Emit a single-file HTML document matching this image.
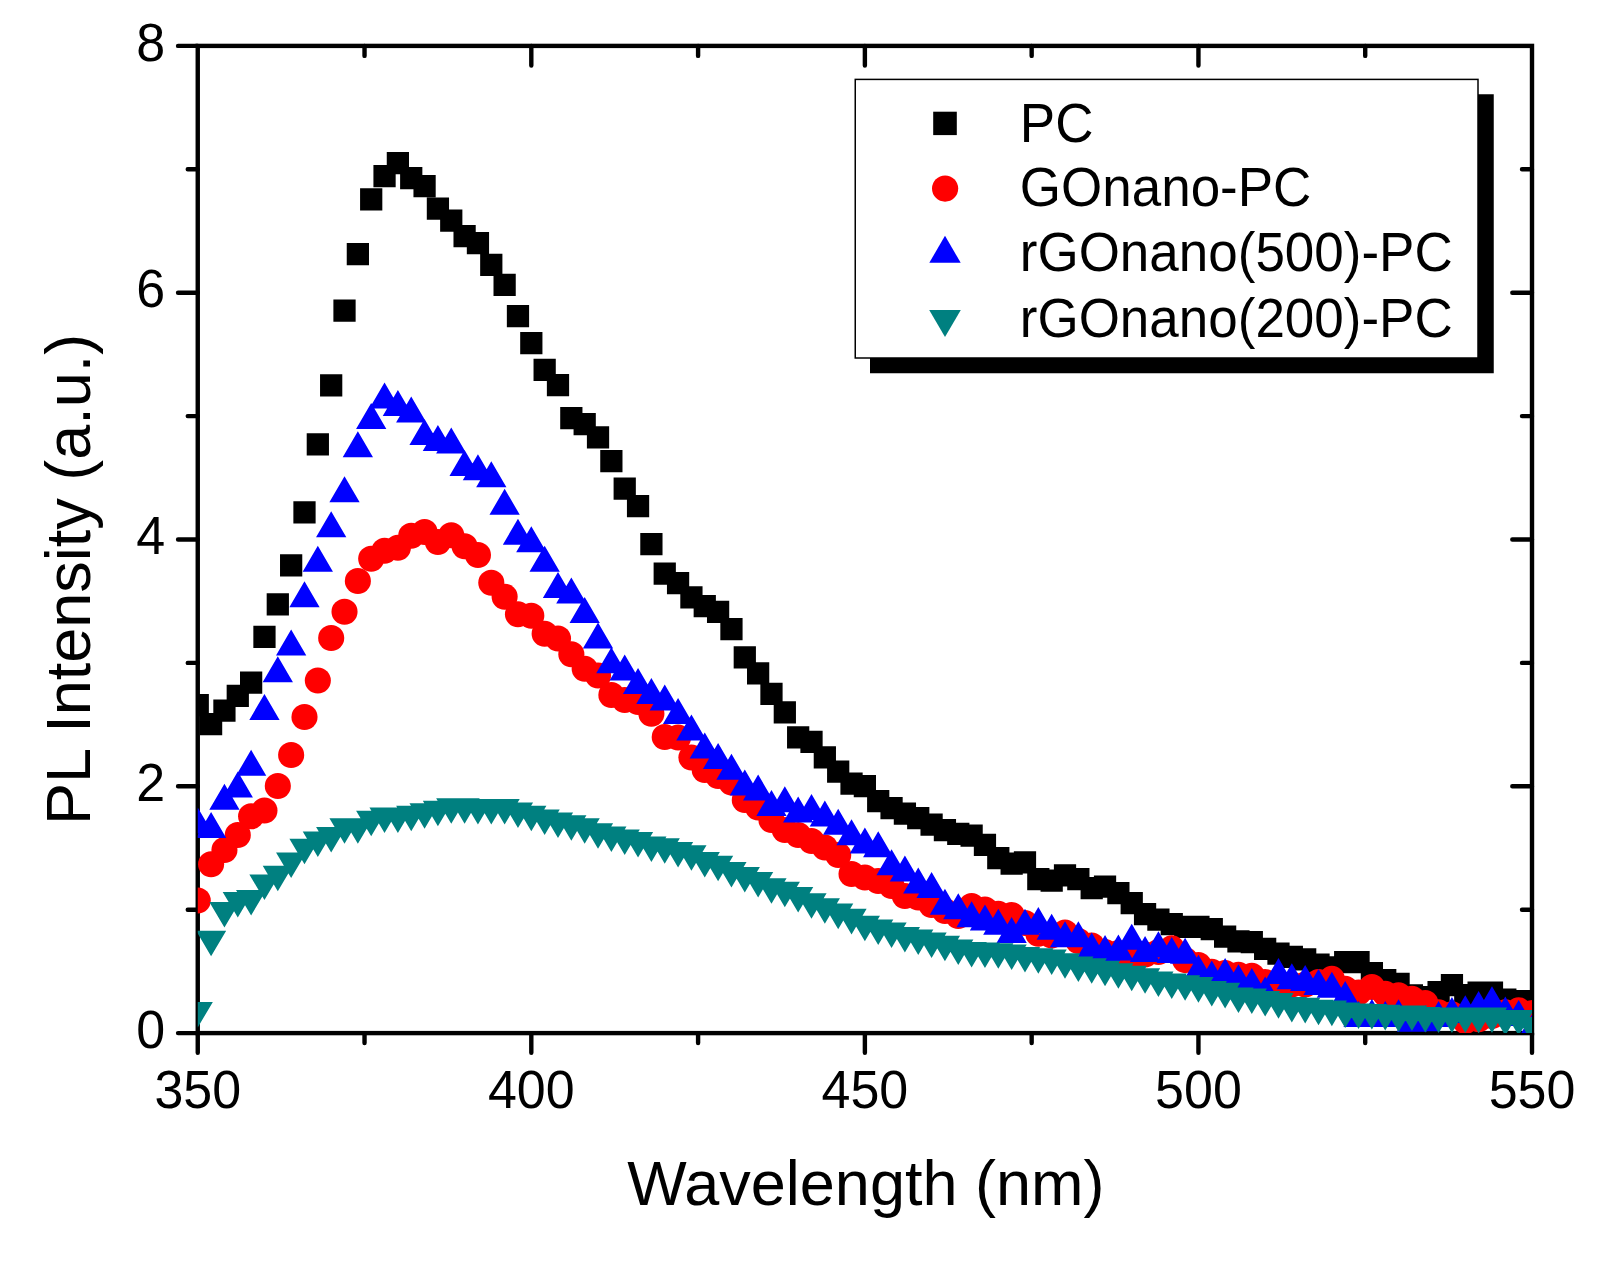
<!DOCTYPE html>
<html><head><meta charset="utf-8"><title>PL Intensity</title>
<style>
html,body{margin:0;padding:0;background:#fff;}
body{width:1616px;height:1268px;overflow:hidden;}
svg{display:block;}
text{font-family:"Liberation Sans",Arial,Helvetica,sans-serif;fill:#000;}
.tick{font-size:52px;}
.ttl{font-size:63px;}
.leg{font-size:53px;}
.ax{stroke:#000;stroke-width:4.4;stroke-linecap:round;fill:none;}
</style></head><body>
<svg width="1616" height="1268" viewBox="0 0 1616 1268">
<rect width="1616" height="1268" fill="#fff"/>
<defs><clipPath id="pc"><rect x="197.75" y="45.9" width="1334.25" height="987.2"/></clipPath></defs>

<rect class="ax" style="stroke-linecap:butt;stroke-linejoin:miter" x="197.75" y="45.9" width="1334.25" height="987.2"/>
<path class="ax" d="M197.75 1033.1v19.7M364.53 1033.1v10M364.53 45.9v10M531.31 1033.1v19.7M531.31 45.9v19.7M698.09 1033.1v10M698.09 45.9v10M864.88 1033.1v19.7M864.88 45.9v19.7M1031.66 1033.1v10M1031.66 45.9v10M1198.44 1033.1v19.7M1198.44 45.9v19.7M1365.22 1033.1v10M1365.22 45.9v10M1532 1033.1v19.7M197.75 1033.1h-19.7M197.75 909.7h-10M1532 909.7h-10M197.75 786.3h-19.7M1532 786.3h-19.7M197.75 662.9h-10M1532 662.9h-10M197.75 539.5h-19.7M1532 539.5h-19.7M197.75 416.1h-10M1532 416.1h-10M197.75 292.7h-19.7M1532 292.7h-19.7M197.75 169.3h-10M1532 169.3h-10M197.75 45.9h-19.7"/>
<text class="tick" transform="translate(197.75 1108) scale(1 1.045)" text-anchor="middle">350</text>
<text class="tick" transform="translate(531.31 1108) scale(1 1.045)" text-anchor="middle">400</text>
<text class="tick" transform="translate(864.88 1108) scale(1 1.045)" text-anchor="middle">450</text>
<text class="tick" transform="translate(1198.44 1108) scale(1 1.045)" text-anchor="middle">500</text>
<text class="tick" transform="translate(1532 1108) scale(1 1.045)" text-anchor="middle">550</text>
<text class="tick" transform="translate(165.2 1047.7) scale(1 1.045)" text-anchor="end">0</text>
<text class="tick" transform="translate(165.2 800.9) scale(1 1.045)" text-anchor="end">2</text>
<text class="tick" transform="translate(165.2 554.1) scale(1 1.045)" text-anchor="end">4</text>
<text class="tick" transform="translate(165.2 307.3) scale(1 1.045)" text-anchor="end">6</text>
<text class="tick" transform="translate(165.2 60.5) scale(1 1.045)" text-anchor="end">8</text>
<text class="ttl" transform="translate(865.8 1204.8) scale(1 1.012)" text-anchor="middle">Wavelength (nm)</text>
<text class="ttl" transform="translate(90.2 825) rotate(-90) scale(1 1.012)">PL Intensity (a.u.)</text>
<g clip-path="url(#pc)">
<path fill="#000" d="M186.62 694.08h22.25v22.25h-22.25zM199.97 713.08h22.25v22.25h-22.25zM213.31 699.58h22.25v22.25h-22.25zM226.65 684.67h22.25v22.25h-22.25zM240 671.38h22.25v22.25h-22.25zM253.34 625.77h22.25v22.25h-22.25zM266.68 593.27h22.25v22.25h-22.25zM280.02 554.27h22.25v22.25h-22.25zM293.37 501.27h22.25v22.25h-22.25zM306.71 433.27h22.25v22.25h-22.25zM320.05 374.27h22.25v22.25h-22.25zM333.39 299.48h22.25v22.25h-22.25zM346.74 242.97h22.25v22.25h-22.25zM360.08 188.28h22.25v22.25h-22.25zM373.42 164.97h22.25v22.25h-22.25zM386.76 151.97h22.25v22.25h-22.25zM400.11 166.97h22.25v22.25h-22.25zM413.45 174.97h22.25v22.25h-22.25zM426.79 197.47h22.25v22.25h-22.25zM440.13 209.47h22.25v22.25h-22.25zM453.48 224.97h22.25v22.25h-22.25zM466.82 231.97h22.25v22.25h-22.25zM480.16 253.77h22.25v22.25h-22.25zM493.5 273.77h22.25v22.25h-22.25zM506.85 304.98h22.25v22.25h-22.25zM520.19 331.98h22.25v22.25h-22.25zM533.53 358.77h22.25v22.25h-22.25zM546.87 373.98h22.25v22.25h-22.25zM560.21 406.98h22.25v22.25h-22.25zM573.56 412.98h22.25v22.25h-22.25zM586.9 426.27h22.25v22.25h-22.25zM600.24 449.98h22.25v22.25h-22.25zM613.59 477.48h22.25v22.25h-22.25zM626.93 494.98h22.25v22.25h-22.25zM640.27 532.98h22.25v22.25h-22.25zM653.61 562.48h22.25v22.25h-22.25zM666.95 571.98h22.25v22.25h-22.25zM680.3 586.27h22.25v22.25h-22.25zM693.64 594.98h22.25v22.25h-22.25zM706.98 600.77h22.25v22.25h-22.25zM720.33 617.98h22.25v22.25h-22.25zM733.67 646.27h22.25v22.25h-22.25zM747.01 662.27h22.25v22.25h-22.25zM760.35 682.77h22.25v22.25h-22.25zM773.7 701.27h22.25v22.25h-22.25zM787.04 726.27h22.25v22.25h-22.25zM800.38 730.77h22.25v22.25h-22.25zM813.72 746.27h22.25v22.25h-22.25zM827.07 760.48h22.25v22.25h-22.25zM840.41 772.38h22.25v22.25h-22.25zM853.75 774.98h22.25v22.25h-22.25zM867.09 789.98h22.25v22.25h-22.25zM880.43 796.98h22.25v22.25h-22.25zM893.78 802.48h22.25v22.25h-22.25zM907.12 806.98h22.25v22.25h-22.25zM920.46 813.38h22.25v22.25h-22.25zM933.8 819.08h22.25v22.25h-22.25zM947.15 822.67h22.25v22.25h-22.25zM960.49 824.38h22.25v22.25h-22.25zM973.83 833.77h22.25v22.25h-22.25zM987.17 846.98h22.25v22.25h-22.25zM1000.52 852.48h22.25v22.25h-22.25zM1013.86 851.27h22.25v22.25h-22.25zM1027.2 867.98h22.25v22.25h-22.25zM1040.55 869.48h22.25v22.25h-22.25zM1053.89 864.27h22.25v22.25h-22.25zM1067.23 867.98h22.25v22.25h-22.25zM1080.57 876.98h22.25v22.25h-22.25zM1093.91 875.48h22.25v22.25h-22.25zM1107.26 881.98h22.25v22.25h-22.25zM1120.6 892.08h22.25v22.25h-22.25zM1133.94 902.98h22.25v22.25h-22.25zM1147.28 908.38h22.25v22.25h-22.25zM1160.63 912.88h22.25v22.25h-22.25zM1173.97 915.77h22.25v22.25h-22.25zM1187.31 915.77h22.25v22.25h-22.25zM1200.65 918.08h22.25v22.25h-22.25zM1214 925.58h22.25v22.25h-22.25zM1227.34 930.27h22.25v22.25h-22.25zM1240.68 930.88h22.25v22.25h-22.25zM1254.03 937.77h22.25v22.25h-22.25zM1267.37 942.48h22.25v22.25h-22.25zM1280.71 945.67h22.25v22.25h-22.25zM1294.05 948.17h22.25v22.25h-22.25zM1307.39 953.38h22.25v22.25h-22.25zM1320.74 956.27h22.25v22.25h-22.25zM1334.08 950.98h22.25v22.25h-22.25zM1347.42 950.98h22.25v22.25h-22.25zM1360.77 961.88h22.25v22.25h-22.25zM1374.11 968.98h22.25v22.25h-22.25zM1387.45 972.67h22.25v22.25h-22.25zM1400.79 984.17h22.25v22.25h-22.25zM1414.13 985.88h22.25v22.25h-22.25zM1427.48 980.98h22.25v22.25h-22.25zM1440.82 973.88h22.25v22.25h-22.25zM1454.16 983.98h22.25v22.25h-22.25zM1467.51 981.38h22.25v22.25h-22.25zM1480.85 981.58h22.25v22.25h-22.25zM1494.19 988.48h22.25v22.25h-22.25zM1507.53 990.08h22.25v22.25h-22.25zM1520.88 990.08h22.25v22.25h-22.25z"/>
<g fill="#f00"><circle cx="197.75" cy="900.5" r="13.05"/><circle cx="211.09" cy="864.25" r="13.05"/><circle cx="224.44" cy="850" r="13.05"/><circle cx="237.78" cy="835" r="13.05"/><circle cx="251.12" cy="816.25" r="13.05"/><circle cx="264.46" cy="810.5" r="13.05"/><circle cx="277.81" cy="786" r="13.05"/><circle cx="291.15" cy="755" r="13.05"/><circle cx="304.49" cy="717" r="13.05"/><circle cx="317.83" cy="680.5" r="13.05"/><circle cx="331.18" cy="638" r="13.05"/><circle cx="344.52" cy="611.75" r="13.05"/><circle cx="357.86" cy="581" r="13.05"/><circle cx="371.2" cy="558.7" r="13.05"/><circle cx="384.54" cy="550.7" r="13.05"/><circle cx="397.89" cy="547.7" r="13.05"/><circle cx="411.23" cy="535.7" r="13.05"/><circle cx="424.57" cy="531.95" r="13.05"/><circle cx="437.91" cy="541.95" r="13.05"/><circle cx="451.26" cy="535.2" r="13.05"/><circle cx="464.6" cy="546.2" r="13.05"/><circle cx="477.94" cy="554.95" r="13.05"/><circle cx="491.29" cy="582.75" r="13.05"/><circle cx="504.63" cy="596.75" r="13.05"/><circle cx="517.97" cy="614.25" r="13.05"/><circle cx="531.31" cy="615.75" r="13.05"/><circle cx="544.65" cy="633.75" r="13.05"/><circle cx="558" cy="638.5" r="13.05"/><circle cx="571.34" cy="654.25" r="13.05"/><circle cx="584.68" cy="668.75" r="13.05"/><circle cx="598.02" cy="675.5" r="13.05"/><circle cx="611.37" cy="695" r="13.05"/><circle cx="624.71" cy="700" r="13.05"/><circle cx="638.05" cy="702" r="13.05"/><circle cx="651.39" cy="713.75" r="13.05"/><circle cx="664.74" cy="737" r="13.05"/><circle cx="678.08" cy="737.5" r="13.05"/><circle cx="691.42" cy="757.5" r="13.05"/><circle cx="704.76" cy="770" r="13.05"/><circle cx="718.11" cy="776" r="13.05"/><circle cx="731.45" cy="782.5" r="13.05"/><circle cx="744.79" cy="800" r="13.05"/><circle cx="758.13" cy="807.5" r="13.05"/><circle cx="771.48" cy="820" r="13.05"/><circle cx="784.82" cy="830" r="13.05"/><circle cx="798.16" cy="835" r="13.05"/><circle cx="811.5" cy="841" r="13.05"/><circle cx="824.85" cy="847.5" r="13.05"/><circle cx="838.19" cy="855" r="13.05"/><circle cx="851.53" cy="874" r="13.05"/><circle cx="864.88" cy="877.5" r="13.05"/><circle cx="878.22" cy="881" r="13.05"/><circle cx="891.56" cy="886" r="13.05"/><circle cx="904.9" cy="896" r="13.05"/><circle cx="918.25" cy="897.5" r="13.05"/><circle cx="931.59" cy="905" r="13.05"/><circle cx="944.93" cy="911" r="13.05"/><circle cx="958.27" cy="916" r="13.05"/><circle cx="971.62" cy="906" r="13.05"/><circle cx="984.96" cy="909.5" r="13.05"/><circle cx="998.3" cy="913.75" r="13.05"/><circle cx="1011.64" cy="915" r="13.05"/><circle cx="1024.99" cy="923" r="13.05"/><circle cx="1038.33" cy="933.75" r="13.05"/><circle cx="1051.67" cy="935.5" r="13.05"/><circle cx="1065.01" cy="932.5" r="13.05"/><circle cx="1078.36" cy="941" r="13.05"/><circle cx="1091.7" cy="945.5" r="13.05"/><circle cx="1105.04" cy="952" r="13.05"/><circle cx="1118.38" cy="953" r="13.05"/><circle cx="1131.72" cy="955.4" r="13.05"/><circle cx="1145.07" cy="954.5" r="13.05"/><circle cx="1158.41" cy="952" r="13.05"/><circle cx="1171.75" cy="948.4" r="13.05"/><circle cx="1185.1" cy="960.1" r="13.05"/><circle cx="1198.44" cy="965" r="13.05"/><circle cx="1211.78" cy="971.9" r="13.05"/><circle cx="1225.12" cy="973" r="13.05"/><circle cx="1238.46" cy="974.7" r="13.05"/><circle cx="1251.81" cy="975.7" r="13.05"/><circle cx="1265.15" cy="982" r="13.05"/><circle cx="1278.49" cy="985" r="13.05"/><circle cx="1291.84" cy="984.5" r="13.05"/><circle cx="1305.18" cy="984.5" r="13.05"/><circle cx="1318.52" cy="982" r="13.05"/><circle cx="1331.86" cy="978.9" r="13.05"/><circle cx="1345.2" cy="988.8" r="13.05"/><circle cx="1358.55" cy="992.6" r="13.05"/><circle cx="1371.89" cy="987" r="13.05"/><circle cx="1385.23" cy="993.8" r="13.05"/><circle cx="1398.58" cy="995.3" r="13.05"/><circle cx="1411.92" cy="998.7" r="13.05"/><circle cx="1425.26" cy="1003" r="13.05"/><circle cx="1438.6" cy="1012.4" r="13.05"/><circle cx="1451.94" cy="1014.2" r="13.05"/><circle cx="1465.29" cy="1021.1" r="13.05"/><circle cx="1478.63" cy="1019.3" r="13.05"/><circle cx="1491.97" cy="1016" r="13.05"/><circle cx="1505.32" cy="1012.4" r="13.05"/><circle cx="1518.66" cy="1010.4" r="13.05"/><circle cx="1532" cy="1013" r="13.05"/></g>
<path fill="#00f" d="M197.75 807.4l15.15 26h-30.3zM211.09 811.9l15.15 26h-30.3zM224.44 783.7l15.15 26h-30.3zM237.78 771.6l15.15 26h-30.3zM251.12 749.8l15.15 26h-30.3zM264.46 693.9l15.15 26h-30.3zM277.81 656.25l15.15 26h-30.3zM291.15 629.5l15.15 26h-30.3zM304.49 581.25l15.15 26h-30.3zM317.83 545.75l15.15 26h-30.3zM331.18 511.25l15.15 26h-30.3zM344.52 476.25l15.15 26h-30.3zM357.86 431.25l15.15 26h-30.3zM371.2 403l15.15 26h-30.3zM384.54 382.5l15.15 26h-30.3zM397.89 390l15.15 26h-30.3zM411.23 396.5l15.15 26h-30.3zM424.57 419l15.15 26h-30.3zM437.91 425l15.15 26h-30.3zM451.26 427.5l15.15 26h-30.3zM464.6 450l15.15 26h-30.3zM477.94 454.25l15.15 26h-30.3zM491.29 461.25l15.15 26h-30.3zM504.63 488.75l15.15 26h-30.3zM517.97 518.75l15.15 26h-30.3zM531.31 526.25l15.15 26h-30.3zM544.65 545.75l15.15 26h-30.3zM558 572l15.15 26h-30.3zM571.34 577.5l15.15 26h-30.3zM584.68 597l15.15 26h-30.3zM598.02 622.4l15.15 26h-30.3zM611.37 647.3l15.15 26h-30.3zM624.71 654.6l15.15 26h-30.3zM638.05 668.1l15.15 26h-30.3zM651.39 678.1l15.15 26h-30.3zM664.74 684.6l15.15 26h-30.3zM678.08 698l15.15 26h-30.3zM691.42 714.5l15.15 26h-30.3zM704.76 732.5l15.15 26h-30.3zM718.11 743l15.15 26h-30.3zM731.45 753.75l15.15 26h-30.3zM744.79 769.5l15.15 26h-30.3zM758.13 774.5l15.15 26h-30.3zM771.48 790l15.15 26h-30.3zM784.82 786.25l15.15 26h-30.3zM798.16 796.6l15.15 26h-30.3zM811.5 794l15.15 26h-30.3zM824.85 800.5l15.15 26h-30.3zM838.19 808.75l15.15 26h-30.3zM851.53 819.25l15.15 26h-30.3zM864.88 827.5l15.15 26h-30.3zM878.22 831.25l15.15 26h-30.3zM891.56 849.25l15.15 26h-30.3zM904.9 855.5l15.15 26h-30.3zM918.25 867.5l15.15 26h-30.3zM931.59 871.9l15.15 26h-30.3zM944.93 888.75l15.15 26h-30.3zM958.27 893.25l15.15 26h-30.3zM971.62 901.25l15.15 26h-30.3zM984.96 904.5l15.15 26h-30.3zM998.3 908.75l15.15 26h-30.3zM1011.64 917l15.15 26h-30.3zM1024.99 908.75l15.15 26h-30.3zM1038.33 907l15.15 26h-30.3zM1051.67 913.75l15.15 26h-30.3zM1065.01 921.25l15.15 26h-30.3zM1078.36 921.25l15.15 26h-30.3zM1091.7 932.5l15.15 26h-30.3zM1105.04 935l15.15 26h-30.3zM1118.38 934.5l15.15 26h-30.3zM1131.72 923.75l15.15 26h-30.3zM1145.07 936l15.15 26h-30.3zM1158.41 931.2l15.15 26h-30.3zM1171.75 937l15.15 26h-30.3zM1185.1 937.8l15.15 26h-30.3zM1198.44 954.8l15.15 26h-30.3zM1211.78 960.4l15.15 26h-30.3zM1225.12 958.1l15.15 26h-30.3zM1238.46 964.2l15.15 26h-30.3zM1251.81 967.9l15.15 26h-30.3zM1265.15 976.4l15.15 26h-30.3zM1278.49 958.1l15.15 26h-30.3zM1291.84 963.2l15.15 26h-30.3zM1305.18 965.1l15.15 26h-30.3zM1318.52 968.9l15.15 26h-30.3zM1331.86 971.7l15.15 26h-30.3zM1345.2 981.1l15.15 26h-30.3zM1358.55 1001l15.15 26h-30.3zM1371.89 999l15.15 26h-30.3zM1385.23 1001l15.15 26h-30.3zM1398.58 999.3l15.15 26h-30.3zM1411.92 1005.8l15.15 26h-30.3zM1425.26 1005.3l15.15 26h-30.3zM1438.6 1001.1l15.15 26h-30.3zM1451.94 997l15.15 26h-30.3zM1465.29 995.2l15.15 26h-30.3zM1478.63 991.1l15.15 26h-30.3zM1491.97 986.3l15.15 26h-30.3zM1505.32 996.4l15.15 26h-30.3zM1518.66 999.9l15.15 26h-30.3zM1532 1014.5l15.15 26h-30.3z"/>
<path fill="#008080" d="M197.75 1027.5l15.1 -25.6h-30.2zM211.09 956.25l15.1 -25.6h-30.2zM224.44 927.5l15.1 -25.6h-30.2zM237.78 917.5l15.1 -25.6h-30.2zM251.12 915.5l15.1 -25.6h-30.2zM264.46 900l15.1 -25.6h-30.2zM277.81 891.25l15.1 -25.6h-30.2zM291.15 878l15.1 -25.6h-30.2zM304.49 864.25l15.1 -25.6h-30.2zM317.83 857l15.1 -25.6h-30.2zM331.18 852.5l15.1 -25.6h-30.2zM344.52 843.75l15.1 -25.6h-30.2zM357.86 843.75l15.1 -25.6h-30.2zM371.2 836.25l15.1 -25.6h-30.2zM384.54 833l15.1 -25.6h-30.2zM397.89 833l15.1 -25.6h-30.2zM411.23 831.25l15.1 -25.6h-30.2zM424.57 828.75l15.1 -25.6h-30.2zM437.91 826.25l15.1 -25.6h-30.2zM451.26 823.75l15.1 -25.6h-30.2zM464.6 823.75l15.1 -25.6h-30.2zM477.94 824.5l15.1 -25.6h-30.2zM491.29 824.5l15.1 -25.6h-30.2zM504.63 824.5l15.1 -25.6h-30.2zM517.97 828l15.1 -25.6h-30.2zM531.31 831.25l15.1 -25.6h-30.2zM544.65 835l15.1 -25.6h-30.2zM558 838l15.1 -25.6h-30.2zM571.34 840.75l15.1 -25.6h-30.2zM584.68 843.75l15.1 -25.6h-30.2zM598.02 848.75l15.1 -25.6h-30.2zM611.37 852l15.1 -25.6h-30.2zM624.71 855l15.1 -25.6h-30.2zM638.05 857.5l15.1 -25.6h-30.2zM651.39 862l15.1 -25.6h-30.2zM664.74 863.75l15.1 -25.6h-30.2zM678.08 867.5l15.1 -25.6h-30.2zM691.42 870.75l15.1 -25.6h-30.2zM704.76 877.5l15.1 -25.6h-30.2zM718.11 881.25l15.1 -25.6h-30.2zM731.45 887.5l15.1 -25.6h-30.2zM744.79 892.5l15.1 -25.6h-30.2zM758.13 897.5l15.1 -25.6h-30.2zM771.48 903.75l15.1 -25.6h-30.2zM784.82 907.25l15.1 -25.6h-30.2zM798.16 912.5l15.1 -25.6h-30.2zM811.5 918.75l15.1 -25.6h-30.2zM824.85 923.75l15.1 -25.6h-30.2zM838.19 929.2l15.1 -25.6h-30.2zM851.53 934.4l15.1 -25.6h-30.2zM864.88 941.25l15.1 -25.6h-30.2zM878.22 945l15.1 -25.6h-30.2zM891.56 948l15.1 -25.6h-30.2zM904.9 952.5l15.1 -25.6h-30.2zM918.25 955l15.1 -25.6h-30.2zM931.59 958l15.1 -25.6h-30.2zM944.93 961.25l15.1 -25.6h-30.2zM958.27 965l15.1 -25.6h-30.2zM971.62 967.5l15.1 -25.6h-30.2zM984.96 968l15.1 -25.6h-30.2zM998.3 968.75l15.1 -25.6h-30.2zM1011.64 970l15.1 -25.6h-30.2zM1024.99 972.5l15.1 -25.6h-30.2zM1038.33 973.75l15.1 -25.6h-30.2zM1051.67 975l15.1 -25.6h-30.2zM1065.01 978.75l15.1 -25.6h-30.2zM1078.36 982l15.1 -25.6h-30.2zM1091.7 983.75l15.1 -25.6h-30.2zM1105.04 986.25l15.1 -25.6h-30.2zM1118.38 988.75l15.1 -25.6h-30.2zM1131.72 991.25l15.1 -25.6h-30.2zM1145.07 993.8l15.1 -25.6h-30.2zM1158.41 997l15.1 -25.6h-30.2zM1171.75 999l15.1 -25.6h-30.2zM1185.1 1000.8l15.1 -25.6h-30.2zM1198.44 1002.7l15.1 -25.6h-30.2zM1211.78 1006.5l15.1 -25.6h-30.2zM1225.12 1008.4l15.1 -25.6h-30.2zM1238.46 1013.1l15.1 -25.6h-30.2zM1251.81 1014l15.1 -25.6h-30.2zM1265.15 1016.5l15.1 -25.6h-30.2zM1278.49 1018.7l15.1 -25.6h-30.2zM1291.84 1022.5l15.1 -25.6h-30.2zM1305.18 1023.4l15.1 -25.6h-30.2zM1318.52 1025.3l15.1 -25.6h-30.2zM1331.86 1026.2l15.1 -25.6h-30.2zM1345.2 1028.1l15.1 -25.6h-30.2zM1358.55 1029l15.1 -25.6h-30.2zM1371.89 1029.6l15.1 -25.6h-30.2zM1385.23 1030.4l15.1 -25.6h-30.2zM1398.58 1032l15.1 -25.6h-30.2zM1411.92 1031l15.1 -25.6h-30.2zM1425.26 1032.5l15.1 -25.6h-30.2zM1438.6 1033l15.1 -25.6h-30.2zM1451.94 1033l15.1 -25.6h-30.2zM1465.29 1033l15.1 -25.6h-30.2zM1478.63 1033.4l15.1 -25.6h-30.2zM1491.97 1033l15.1 -25.6h-30.2zM1505.32 1035.6l15.1 -25.6h-30.2zM1518.66 1035.6l15.1 -25.6h-30.2zM1532 1042.6l15.1 -25.6h-30.2z"/>
</g>
<rect x="870" y="94.25" width="623.75" height="279" fill="#000"/>
<rect x="855.25" y="79.4" width="622.75" height="278.6" fill="#fff" stroke="#000" stroke-width="1.5"/>
<rect x="933.2" y="111.7" width="23.6" height="23.4" fill="#000"/>
<circle cx="945.1" cy="188.6" r="13.1" fill="#f00"/>
<path d="M945 235.7l15.7 27.1h-31.4z" fill="#00f"/>
<path d="M945 337.1l15.8 -27.1h-31.6z" fill="#008080"/>
<text class="leg" transform="translate(1019.8 141.75) scale(1 1.035)">PC</text>
<text class="leg" transform="translate(1019.8 205.75) scale(1 1.035)">GOnano-PC</text>
<text class="leg" transform="translate(1019.8 271.25) scale(1 1.035)">rGOnano(500)-PC</text>
<text class="leg" transform="translate(1019.8 336.75) scale(1 1.035)">rGOnano(200)-PC</text>
</svg></body></html>
